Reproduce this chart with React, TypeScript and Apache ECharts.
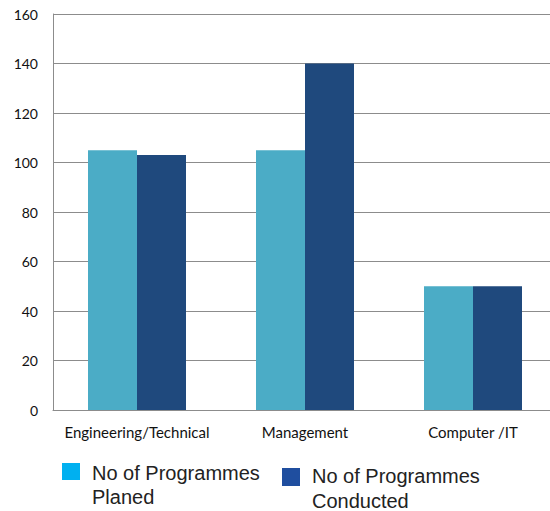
import React, { useEffect, useRef } from "react";
import * as echarts from "echarts";

const categories = ["Engineering/Technical", "Management", "Computer /IT"];
const planned = [105, 105, 50];
const conducted = [103, 140, 50];
const seriesNames = ["No of Programmes Planed", "No of Programmes Conducted"];
const legendLines = [
  ["No of Programmes", "Planed"],
  ["No of Programmes", "Conducted"],
];

export default function App() {
  const ref = useRef<HTMLDivElement>(null);
  useEffect(() => {
    if (!ref.current) return;
    const chart = echarts.init(ref.current, null, { renderer: "svg" });
    const font = "Lato, 'Open Sans', sans-serif";
    chart.setOption({
      animation: false,
      backgroundColor: "#ffffff",
      grid: { left: 53, right: 0, top: 14, bottom: 101, containLabel: false },
      xAxis: {
        type: "category",
        data: categories,
        axisLine: { show: true, lineStyle: { color: "#8c8c8c", width: 1 } },
        axisTick: { show: false },
        axisLabel: { color: "#111", fontSize: 15, fontFamily: font, margin: 14, interval: 0 },
      },
      yAxis: {
        type: "value",
        min: 0,
        max: 160,
        interval: 20,
        axisLine: { show: true, lineStyle: { color: "#8c8c8c", width: 1 } },
        axisTick: { show: false },
        splitLine: { lineStyle: { color: "#8c8c8c", width: 1 } },
        axisLabel: { color: "#111", fontSize: 14, fontFamily: font, margin: 15 },
      },
      series: [
        {
          name: seriesNames[0],
          type: "bar",
          data: planned,
          barWidth: 49,
          barGap: "0%",
          itemStyle: { color: "#4bacc6" },
        },
        {
          name: seriesNames[1],
          type: "bar",
          data: conducted,
          barWidth: 49,
          barGap: "0%",
          itemStyle: { color: "#1f497d" },
        },
      ],
      graphic: [
        { type: "rect", left: 62, top: 463, shape: { width: 18, height: 17 }, style: { fill: "#00b0f0" } },
        {
          type: "text",
          left: 92,
          top: 461,
          style: { text: legendLines[0].join("\n"), fontSize: 20, lineHeight: 24, fill: "#222", font: `20px ${font}` },
        },
        { type: "rect", left: 282, top: 468, shape: { width: 18, height: 18 }, style: { fill: "#1f4e9f" } },
        {
          type: "text",
          left: 312,
          top: 463,
          style: { text: legendLines[1].join("\n"), fontSize: 20, lineHeight: 25, fill: "#222", font: `20px ${font}` },
        },
      ],
    });
    return () => chart.dispose();
  }, []);
  return (
    <div style={{ position: "absolute", left: 0, top: 0, width: 550, height: 511, overflow: "hidden" }}>
      <div ref={ref} style={{ width: 557, height: 511 }} />
    </div>
  );
}
